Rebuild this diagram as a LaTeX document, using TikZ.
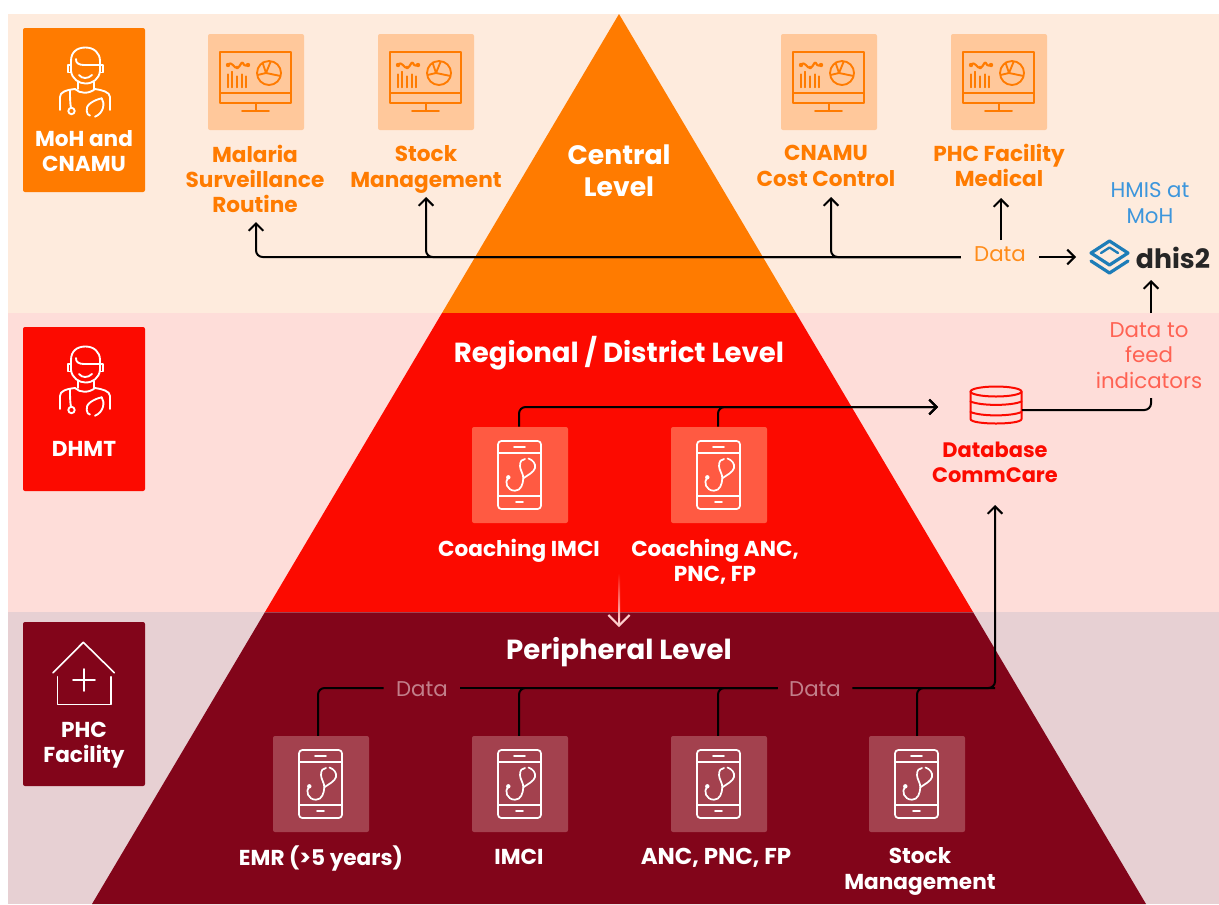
\documentclass[tikz,border=0pt]{standalone}
\usepackage{fontspec}
\setmainfont{Poppins}
\usetikzlibrary{arrows.meta,calc}
\definecolor{cOr}{HTML}{FF7B00}
\definecolor{cRe}{HTML}{FC0A00}
\definecolor{cMa}{HTML}{82051A}
\definecolor{bOr}{HTML}{FEEBDD}
\definecolor{bRe}{HTML}{FEDDD9}
\definecolor{bMa}{HTML}{E7D0D3}
\definecolor{tOr}{HTML}{FFC89B}
\definecolor{tRe}{HTML}{FF5A42}
\definecolor{tMa}{HTML}{A3414E}
\definecolor{cBlue}{HTML}{3D96DC}
\definecolor{cSal}{HTML}{FF6253}
\definecolor{cLogo}{HTML}{1D7DB8}
\definecolor{cDim}{HTML}{C27F8A}
\definecolor{cDataO}{HTML}{FF8C1A}
\tikzset{
  x=0.75pt,y=-0.75pt,
  tile/.style={rectangle,rounded corners=1.5pt,minimum size=72pt,inner sep=0pt,draw=none},
  rolebox/.style={rectangle,rounded corners=1.5pt,minimum width=91.5pt,minimum height=123pt,inner sep=0pt,draw=none},
  lab/.style={align=center,inner sep=0pt,font=\fontsize{16.2}{19}\selectfont\bfseries},
  title/.style={align=center,inner sep=0pt,font=\fontsize{20.7}{24}\selectfont\bfseries,text=white},
  dataLab/.style={align=center,inner sep=0pt,font=\fontsize{16}{19}\selectfont,text height=9pt,text depth=2pt},
  dataLabB/.style={align=center,inner sep=0pt,font=\fontsize{16}{19}\selectfont,text height=12pt,text depth=0pt},
  conn/.style={draw=black,line width=1.5pt,rounded corners=5pt},
  tipped/.style={conn,-{Straight Barb[length=5.5pt,width=11pt,line width=1.5pt]}},
  icon/.style={line width=1.3pt,line cap=round,line join=round},
  monitor/.pic={
    \begin{scope}[icon,draw=cOr,line width=1.4pt]
    \draw (-36,-30) rectangle (35,21);
    \draw (-36,11) -- (35,11);
    \draw (0,21) -- (0,29) (-14,29) -- (13,29);
    \draw (13,-9) circle [radius=12];
    \draw (6.5,-19.5) -- (10,-9) -- (24.5,-6) (14.5,-20) -- (10,-9) -- (1.5,-7);
    \draw[line width=1.6pt] (-28,-17) .. controls (-24,-22) and (-22,-13) .. (-18.5,-14) .. controls (-15,-16) and (-15,-21) .. (-13,-19) .. controls (-12,-16) and (-10,-16) .. (-8,-17);
    \fill[cOr] (-28,-17) circle [radius=2.2] (-19,-14.5) circle [radius=1.8] (-8,-17) circle [radius=2.2];
    \draw (-28.3,-7.7) -- (-28.3,5.3) (-23.7,-10.3) -- (-23.7,5.3) (-19.3,-5.7) -- (-19.3,5.3) (-14.3,-7.7) -- (-14.3,5.3) (-10,-5.7) -- (-10,5.3);
    \end{scope}
  },
  phone/.pic={
    \begin{scope}[icon,draw=white]
    \draw[rounded corners=2.5pt] (-22,-34) rectangle (21,34);
    \draw (-22,-22) -- (21,-22) (-22,21) -- (21,21);
    \draw (-6,-28) -- (5,-28) (-4,27) -- (3,27);
    \draw (-11.7,2.3) .. controls (-16,7) and (-13,15.7) .. (-5,15.7) .. controls (1,15.7) and (3,9) .. (3.3,3.3) .. controls (3.5,-1) and (0,-5) .. (0,-9) .. controls (0,-14) and (2,-16) .. (5,-16);
    \draw (8.5,-16.5) .. controls (13,-15) and (16,-11) .. (15,-7) .. controls (14,-3) and (8,0) .. (3.3,3.3);
    \fill[white] (-11.7,2.3) circle [radius=2.2];
    \end{scope}
  },
  doctor/.pic={
    \begin{scope}[icon,draw=white,line width=1.4pt]
    \draw (-13,-14) -- (-13,-24) .. controls (-13,-33) and (-7,-37.5) .. (1.5,-37.5) .. controls (10,-37.5) and (16,-32) .. (16,-24) -- (16,-14);
    \draw (-13,-14) .. controls (-12,-6) and (-5,-1.5) .. (1.5,-1.5) .. controls (9,-1.5) and (15,-6) .. (16,-14);
    \draw (-8,-26) .. controls (-8.5,-22) and (-5,-20) .. (0,-20) -- (16,-20);
    \draw (-5,-10) .. controls (-2,-6) and (4,-6) .. (8,-10);
    \draw (-13,-20) -- (-16,-20) -- (-16,-12.5) -- (-13,-12.5) (16,-20) -- (19,-20) -- (19,-12.5) -- (16,-12.5);
    \draw (-6,-3) -- (-6,4) (10,-3) -- (10,4);
    \draw (-24,25) -- (-24,12) .. controls (-24,7) and (-18,5) .. (-9,4) .. controls (-4,9) and (5,9) .. (11,4) .. controls (18,5) and (26,7) .. (26,12) -- (26,25);
    \draw (-14,5) .. controls (-14,12) and (-14,18) .. (-13,23);
    \draw (-12.5,26) circle [radius=3.2];
    \draw (17.7,13.3) .. controls (10,15) and (1,20) .. (2.7,26) .. controls (3,29) and (4,30) .. (6,30.5);
    \draw (17.7,13.3) .. controls (21,18) and (20,28) .. (11,31.7);
    \end{scope}
  },
  database/.pic={
    \begin{scope}[icon,draw=cRe,line width=1.5pt]
    \draw (0,-13.5) ellipse [x radius=25.5,y radius=5];
    \draw (-25.5,-13.5) -- (-25.5,14) .. controls (-25.5,20) and (25.5,20) .. (25.5,14) -- (25.5,-13.5);
    \draw (-25.5,-3.5) .. controls (-15,1) and (15,1) .. (25.5,-3.5);
    \draw (-25.5,7) .. controls (-15,11.5) and (15,11.5) .. (25.5,7);
    \end{scope}
  },
  logomark/.pic={
    \begin{scope}[draw=cLogo,line width=2.4pt,line join=round,line cap=round]
    \draw (-18.5,-5) -- (0,-17) -- (18.5,-5) -- (0,7) -- cycle;
    \draw[line width=1.8pt] (-8.5,-5) -- (0,-10.5) -- (8.5,-5);
    \draw (-18.5,3) -- (0,15) -- (18.5,3);
    \end{scope}
  }
}
\begin{document}
\begin{tikzpicture}
\useasboundingbox (0,0) rectangle (1219,904);
\fill[white] (0,0) rectangle (1219,904);
% bands
\fill[bOr] (8,14) rectangle (1219,313);
\fill[bRe] (8,313) rectangle (1219,612);
\fill[bMa] (8,612) rectangle (1219,904);
% pyramid
\fill[cOr] (619,14) -- (796,313) -- (442,313) -- cycle;
\fill[cRe] (442,313) -- (796,313) -- (973,612) -- (265,612) -- cycle;
\fill[cMa] (265,612) -- (973,612) -- (1146,904) -- (92,904) -- cycle;
\draw[white,opacity=0.25,line width=0.6pt] (265,612) -- (973,612);
% role boxes
\node[rolebox,fill=cOr] (roleA) at (84,110) {};
\node[rolebox,fill=cRe] (roleB) at (84,409) {};
\node[rolebox,fill=cMa] (roleC) at (84,704) {};
\pic at (84,85) {doctor};
\pic at (84,384) {doctor};
\begin{scope}[icon,draw=white,line width=1.2pt]
\draw (53,672.7) -- (83.3,642.3) -- (114.3,672.7);
\draw (57.3,676.7) -- (57.3,704.3) -- (110.7,704.3) -- (110.7,676.7);
\draw (84,669) -- (84,691) (73,680) -- (95,680);
\end{scope}
\node[lab,text=white] (roleAt) at (84,151) {MoH and\\CNAMU};
\node[lab,text=white] (roleBt) at (84,449) {DHMT};
\node[lab,text=white] (roleCt) at (84,745) {PHC\\Facility};
% tiles top
\node[tile,fill=tOr] (tMal) at (256,82) {};
\node[tile,fill=tOr] (tSto) at (426,82) {};
\node[tile,fill=tOr] (tCna) at (829,82) {};
\node[tile,fill=tOr] (tPhc) at (999,82) {};
\foreach \px in {256,426,829,999} \pic at (\px,82) {monitor};
\node[lab,text=cOr] (lMal) at (255,179) {Malaria\\Surveillance\\Routine};
\node[lab,text=cOr] (lSto) at (426,169.5) {Stock\\Management};
\node[lab,text=cOr] (lCna) at (826,166) {CNAMU\\Cost Control};
\node[lab,text=cOr] (lPhc) at (999,165.5) {PHC Facility\\Medical};
\node[align=center,inner sep=0pt,font=\fontsize{20}{24}\selectfont\bfseries,text=white] (tCentral) at (619,171) {Central\\Level};
% tiles middle
\node[tile,fill=tRe] (tCoI) at (520,475) {};
\node[tile,fill=tRe] (tCoA) at (719,475) {};
\pic at (520,475) {phone};
\pic at (719,475) {phone};
\node[title] (tRegional) at (619,353) {Regional / District Level};
\node[lab,text=white] (lCoI) at (519,551) {Coaching IMCI};
\node[lab,text=white] (lCoA) at (715,561.5) {Coaching ANC,\\PNC, FP};
% tiles bottom
\node[tile,fill=tMa] (tEmr) at (321,784) {};
\node[tile,fill=tMa] (tImc) at (520,784) {};
\node[tile,fill=tMa] (tAnc) at (719,784) {};
\node[tile,fill=tMa] (tSm) at (917,784) {};
\foreach \px in {321,520,719,917} \pic at (\px,784) {phone};
\node[title] (tPeripheral) at (619,652.5) {Peripheral Level};
\node[lab,text=white] (lEmr) at (321,858) {EMR (>5 years)};
\node[lab,text=white] (lImc) at (519,857) {IMCI};
\node[lab,text=white,font=\fontsize{17.2}{19}\selectfont\bfseries] (lAnc) at (716,858) {ANC, PNC, FP};
\node[lab,text=white] (lSm) at (920,871.5) {Stock\\Management};
% database, dhis2
\node[inner sep=0pt,minimum width=38.5pt,minimum height=30pt] (db) at (996,405) {};
\pic at (996,405) {database};
\node[lab,text=cRe,font=\fontsize{15.7}{19}\selectfont\bfseries] (lDb) at (995,462.5) {Database\\CommCare};
\node[align=center,inner sep=0pt,text=cBlue,font=\fontsize{16}{19}\selectfont] (hmis) at (1150,203) {HMIS at\\MoH};
\node[inner sep=0pt,text=black!85,font=\fontsize{20}{24}\selectfont\bfseries] (dhis) at (1173,258) {dhis2};
\pic at (1109.5,258) {logomark};
\coordinate (dhisIn) at (1076,257);
\coordinate (dhisUp) at (1151,280);
% labels on connectors
\node[dataLab,text=cDataO,minimum width=58.5pt] (dTop) at (1000,257) {Data};
\node[dataLabB,text=cDim,minimum width=57pt] (dA) at (422,688) {Data};
\node[dataLabB,text=cDim,minimum width=55.5pt] (dB) at (815,688) {Data};
\node[align=center,inner sep=0pt,text=cSal,font=\fontsize{16}{19}\selectfont] (dFeed) at (1149,355.5) {Data to\\feed\\indicators};
% connectors top
\coordinate (aMal) at (256,222);
\coordinate (aSto) at (426,197);
\coordinate (aCna) at (831,197);
\coordinate (aPhc) at (1001,198);
\coordinate (dTopUp) at (1001,240);
\draw[tipped] (dTop.west) -| (aMal);
\draw[tipped] (dTop.west) -| (aSto);
\draw[tipped] (dTop.west) -| (aCna);
\draw[tipped] (dTopUp) -- (aPhc);
\draw[tipped] (dTop.east) -- (dhisIn);
\coordinate (feedUp) at (1151,313);
\draw[tipped] (feedUp) -- (dhisUp);
\coordinate (feedDown) at (1151,398);
\draw[conn] (db.east |- 0,410) -| (feedDown);
% connectors middle
\coordinate (dbIn) at (938,407);
\draw[tipped] (tCoI.north) ++(-1,0) |- (dbIn);
\draw[tipped] (tCoA.north) ++(-1,0) |- (dbIn);
% connectors bottom
\coordinate (dbUp) at (995,505);
\draw[conn] (tEmr.north) ++(-3,0) |- (dA.west);
\draw[conn] (dA.east) -- (dB.west);
\draw[tipped] (dB.east) -| (dbUp);
\draw[conn] (tImc.north) ++(-1,0) |- (dB.west);
\draw[conn] (tAnc.north) ++(-1,0) |- (dB.west);
\draw[conn] (tSm.north) |- (dbUp |- dB.east);
% level-down arrow
\shade[top color=cRe,bottom color=white!85!cRe] (618,573) rectangle (620,624);
\coordinate (fadeA) at (619,618);
\coordinate (fadeB) at (619,627);
\draw[line width=1.5pt,color=white!80!cRe,-{Straight Barb[length=8pt,width=16pt,line width=1.5pt]}] (fadeA) -- (fadeB);
\end{tikzpicture}
\end{document}
